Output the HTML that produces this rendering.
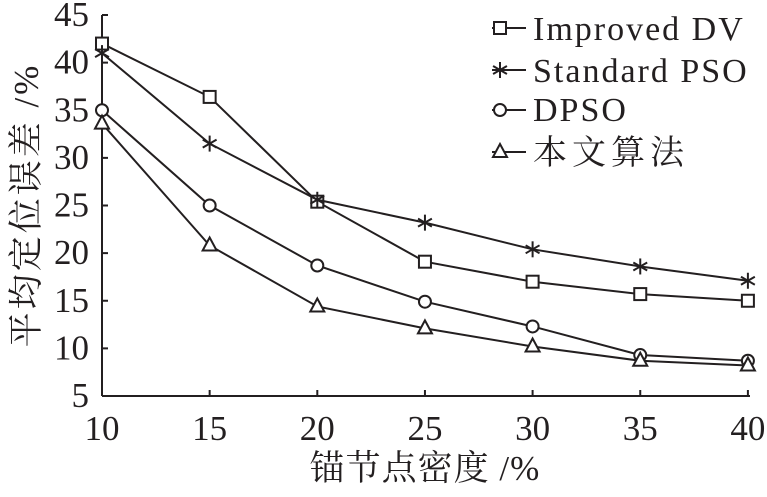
<!DOCTYPE html>
<html><head><meta charset="utf-8"><style>
body{margin:0;background:#fff}
svg text{font-family:"Liberation Serif","Noto Serif CJK SC",serif;fill:#231f20}
</style></head><body>
<svg width="767" height="492" xmlns="http://www.w3.org/2000/svg">
<g stroke="#231f20" stroke-width="2" fill="none">
<line x1="102" y1="15" x2="102" y2="396"/>
<line x1="102" y1="396" x2="750" y2="396"/>
</g>
<g id="ticks" stroke="#231f20" stroke-width="2"></g>
<g id="series" stroke="#231f20" stroke-width="2" fill="none"></g>
<g font-size="35" text-anchor="end" id="ylab"></g>
<g font-size="35" text-anchor="middle" id="xlab"></g>
<text x="425" y="480" font-size="35" text-anchor="middle" letter-spacing="1">锚节点密度 /%</text>
<text transform="translate(38,205) rotate(-90)" font-size="35" text-anchor="middle" letter-spacing="3">平均定位误差 /%</text>
<g font-size="34" letter-spacing="2">
<text x="533" y="40">Improved DV</text>
<text x="533" y="82">Standard PSO</text>
<text x="533" y="121">DPSO</text>
<text x="533" y="164" letter-spacing="5">本文算法</text>
</g>
<g id="leg" stroke="#231f20" stroke-width="2" fill="none"></g>
</svg>
<script>
const ns="http://www.w3.org/2000/svg";
const X=v=>102+(v-10)*21.53, Y=v=>396-(v-5)*9.525;
function el(p,t,a,txt){const e=document.createElementNS(ns,t);for(const k in a)e.setAttribute(k,a[k]);if(txt)e.textContent=txt;document.getElementById(p).appendChild(e);return e;}
for(let v=5;v<=45;v+=5){el('ticks','line',{x1:102,x2:108,y1:Y(v),y2:Y(v)});el('ylab','text',{x:89,y:Y(v)+11},String(v));}
for(let v=10;v<=40;v+=5){el('ticks','line',{x1:X(v),x2:X(v),y1:396,y2:390});el('xlab','text',{x:X(v),y:440},String(v));}
const xs=[10,15,20,25,30,35,40];
const data=[[42,36.4,25.4,19.1,17.0,15.7,15.0],[41,31.5,25.6,23.2,20.4,18.6,17.1],[35,25,18.7,14.9,12.3,9.3,8.7],[33.6,20.8,14.4,12.1,10.2,8.7,8.2]];
function mark(g,k,x,y){
 if(k==0)el(g,'rect',{x:x-6,y:y-6,width:12,height:12,fill:'#fff'});
 else if(k==1){for(const a of[90,30,150]){const r=a*Math.PI/180;el(g,'line',{x1:x-8*Math.cos(r),y1:y-8*Math.sin(r),x2:x+8*Math.cos(r),y2:y+8*Math.sin(r)});}}
 else if(k==2)el(g,'circle',{cx:x,cy:y,r:6,fill:'#fff'});
 else el(g,'polygon',{points:`${x},${y-8} ${x-7},${y+5} ${x+7},${y+5}`,fill:'#fff'});
}
data.forEach((d,k)=>{el('series','polyline',{points:d.map((v,i)=>X(xs[i])+','+Y(v)).join(' ')});d.forEach((v,i)=>mark('series',k,X(xs[i]),Y(v)));});
[28,70,110,152].forEach((y,k)=>{el('leg','line',{x1:492,x2:526,y1:y,y2:y});mark('leg',k,500,y);});
</script>
</body></html>
